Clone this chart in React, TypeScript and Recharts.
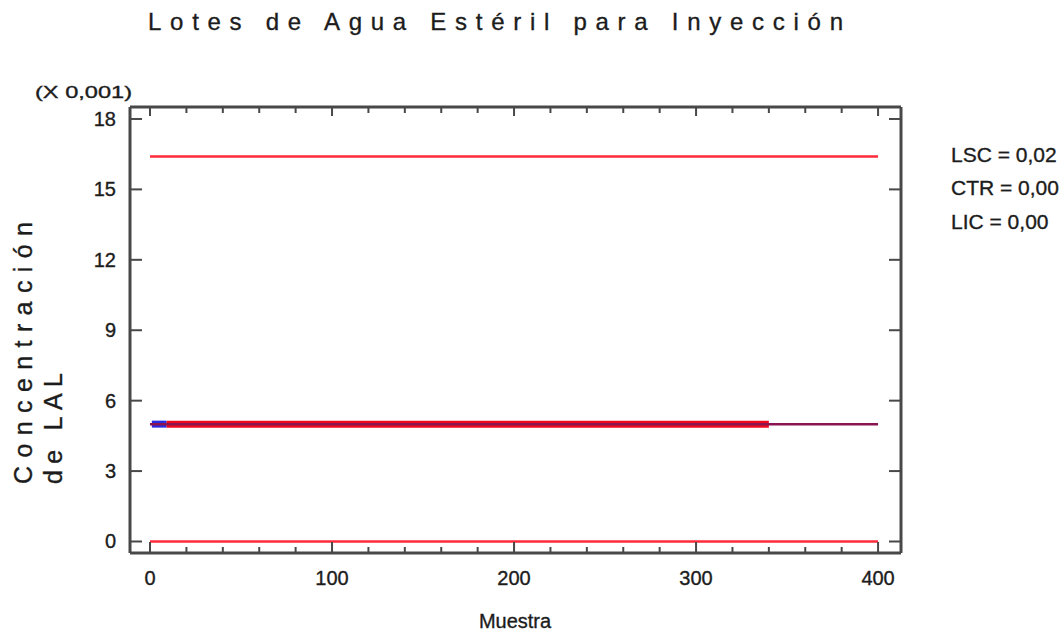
import React from "react";
import { LineChart, Line, XAxis, YAxis } from "recharts";

// ---- data ----
const limitX = [0, 400];
const UCL = 16.4;
const CTR = 5.0;
const LCL = 0;
const sampleNumbers = [1, 9, 340];
const sampleValues = [5.0, 5.0, 5.0];
const xTicks = [0, 20, 40, 60, 80, 100, 120, 140, 160, 180, 200, 220, 240, 260, 280, 300, 320, 340, 360, 380, 400];
const yTicks = [0, 3, 6, 9, 12, 15, 18];
const legendLines = ["LSC = 0,02", "CTR = 0,00", "LIC = 0,00"];

const uclData = limitX.map((x) => ({ x, y: UCL }));
const ctrData = limitX.map((x) => ({ x, y: CTR }));
const lclData = limitX.map((x) => ({ x, y: LCL }));
const blueData = sampleNumbers.slice(0, 2).map((x, i) => ({ x, y: sampleValues[i] }));
const redData = sampleNumbers.slice(1, 3).map((x, i) => ({ x, y: sampleValues[i + 1] }));

const FONT = "'Liberation Sans', Arial, sans-serif";
const TXT = "#1c1c1c";
const AX = "#484848";
const heavy = { stroke: TXT, strokeWidth: 0.35 };

const BottomTick = (props: any) => {
  const { x, y, payload } = props;
  const major = payload.value % 100 === 0;
  return (
    <g>
      <line x1={x} x2={x} y1={y} y2={y - (major ? 11 : 6)} stroke={AX} strokeWidth={2} />
      {major && (
        <text x={x} y={y + 32} textAnchor="middle" fontSize={20} fontFamily={FONT} fill={TXT} {...heavy}>
          {payload.value}
        </text>
      )}
    </g>
  );
};

const TopTick = (props: any) => {
  const { x, y, payload } = props;
  const major = payload.value % 100 === 0;
  return <line x1={x} x2={x} y1={y} y2={y + (major ? 9 : 6)} stroke={AX} strokeWidth={2} />;
};

const LeftTick = (props: any) => {
  const { x, y, payload } = props;
  return (
    <g>
      <line x1={x} x2={x + 12} y1={y} y2={y} stroke={AX} strokeWidth={2} />
      <text x={x - 14} y={y + 7} textAnchor="end" fontSize={20} fontFamily={FONT} fill={TXT} {...heavy}>
        {payload.value}
      </text>
    </g>
  );
};

const RightTick = (props: any) => {
  const { x, y } = props;
  return <line x1={x} x2={x - 12} y1={y} y2={y} stroke={AX} strokeWidth={2} />;
};

export default function App() {
  const xDomain: [number, number] = [-11, 412.6];
  const yDomain: [number, number] = [-0.49, 18.51];
  return (
    <div style={{ position: "absolute", left: 0, top: 0, width: 1062, height: 632, background: "#fff" }}>
      <LineChart
        width={1062}
        height={632}
        margin={{ top: 97, right: 151, bottom: 39, left: 80 }}
      >
        <XAxis
          xAxisId="b"
          type="number"
          dataKey="x"
          domain={xDomain}
          ticks={xTicks}
          interval={0}
          orientation="bottom"
          height={40}
          tickSize={0}
          tickMargin={0}
          tickLine={false}
          tick={<BottomTick />}
          axisLine={{ stroke: AX, strokeWidth: 3 }}
          allowDataOverflow
        />
        <XAxis
          xAxisId="t"
          type="number"
          dataKey="x"
          domain={xDomain}
          ticks={xTicks}
          interval={0}
          orientation="top"
          height={10}
          tickSize={0}
          tickMargin={0}
          tickLine={false}
          tick={<TopTick />}
          axisLine={{ stroke: AX, strokeWidth: 3 }}
          allowDataOverflow
        />
        <YAxis
          yAxisId="l"
          type="number"
          domain={yDomain}
          ticks={yTicks}
          interval={0}
          orientation="left"
          width={50}
          tickSize={0}
          tickMargin={0}
          tickLine={false}
          tick={<LeftTick />}
          axisLine={{ stroke: AX, strokeWidth: 3 }}
          allowDataOverflow
        />
        <YAxis
          yAxisId="r"
          type="number"
          domain={yDomain}
          ticks={yTicks}
          interval={0}
          orientation="right"
          width={10}
          tickSize={0}
          tickMargin={0}
          tickLine={false}
          tick={<RightTick />}
          axisLine={{ stroke: AX, strokeWidth: 3 }}
          allowDataOverflow
        />
        <Line xAxisId="b" yAxisId="l" data={uclData} dataKey="y" stroke="#ff2a3a" strokeWidth={2.5} dot={false} isAnimationActive={false} />
        <Line xAxisId="b" yAxisId="l" data={lclData} dataKey="y" stroke="#ff2a3a" strokeWidth={2.5} dot={false} isAnimationActive={false} />
        <Line xAxisId="b" yAxisId="l" data={redData} dataKey="y" stroke="#ee0a1e" strokeWidth={7} dot={false} isAnimationActive={false} />
        <Line xAxisId="b" yAxisId="l" data={blueData} dataKey="y" stroke="#2a2ae0" strokeWidth={7} dot={false} isAnimationActive={false} />
        <Line xAxisId="b" yAxisId="l" data={ctrData} dataKey="y" stroke="#8a1450" strokeWidth={2.5} dot={false} isAnimationActive={false} />
      </LineChart>
      <svg
        width={1062}
        height={632}
        style={{ position: "absolute", left: 0, top: 0, pointerEvents: "none" }}
        fontFamily={FONT}
      >
        <text x={148} y={30} fontSize={24} fill={TXT} textLength={695} lengthAdjust="spacing" {...heavy}>
          Lotes de Agua Estéril para Inyección
        </text>
        <text x={35} y={98} fontSize={17} fill={TXT} textLength={97} lengthAdjust="spacingAndGlyphs" {...heavy}>
          (X 0,001)
        </text>
        <text x={515} y={628} fontSize={20} fill={TXT} textAnchor="middle" {...heavy}>
          Muestra
        </text>
        <text transform="translate(32,484) rotate(-90)" fontSize={25} fill={TXT} textLength={262} lengthAdjust="spacing" {...heavy}>
          Concentración
        </text>
        <text transform="translate(62,484) rotate(-90)" fontSize={25} fill={TXT} textLength={111} lengthAdjust="spacing" {...heavy}>
          de LAL
        </text>
        {legendLines.map((t, i) => (
          <text key={t} x={951} y={161.5 + i * 33.5} fontSize={21} fill={TXT} {...heavy}>
            {t}
          </text>
        ))}
      </svg>
    </div>
  );
}
